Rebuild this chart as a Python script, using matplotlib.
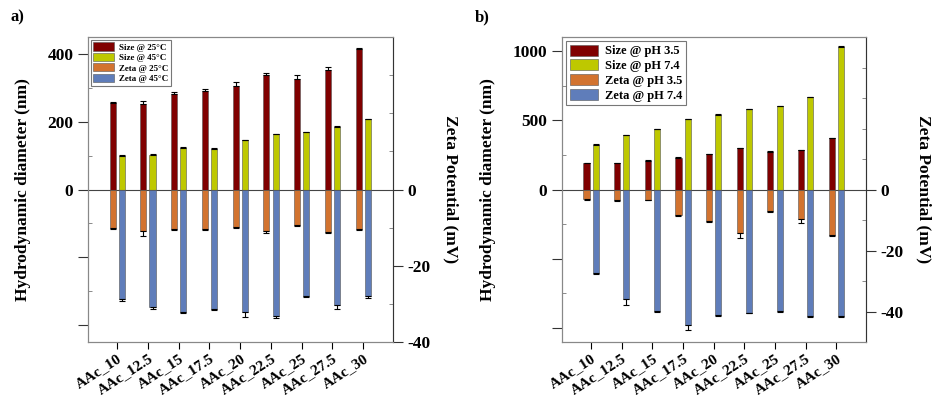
import matplotlib.pyplot as plt
import numpy as np

plt.rcParams['font.family'] = ['Liberation Serif', 'DejaVu Serif']
plt.rcParams['font.weight'] = 'bold'
plt.rcParams['axes.labelweight'] = 'bold'
plt.rcParams['axes.unicode_minus'] = False

groups = ['AAc_10', 'AAc_12.5', 'AAc_15', 'AAc_17.5', 'AAc_20',
          'AAc_22.5', 'AAc_25', 'AAc_27.5', 'AAc_30']

# panel a - temperature
size_25 = [256, 251, 282, 290, 306, 337, 327, 354, 416]
size_25_err = [2, 10, 6, 6, 10, 7, 10, 7, 2]
size_45 = [100, 102, 123, 121, 145, 163, 169, 184, 207]
size_45_err = [2, 2, 2, 2, 2, 2, 2, 2, 2]
zeta_25 = [-10.0, -10.9, -10.3, -10.3, -9.9, -10.8, -9.3, -11.1, -10.3]
zeta_25_err = [0.4, 1.2, 0.3, 0.4, 0.3, 0.5, 0.2, 0.2, 0.4]
zeta_45 = [-28.6, -30.8, -32.2, -31.3, -32.2, -33.2, -27.9, -30.4, -28.0]
zeta_45_err = [0.7, 0.5, 0.3, 0.4, 1.2, 0.5, 0.3, 1.0, 0.4]

# panel b - pH
size_35 = [188, 188, 208, 225, 254, 300, 273, 285, 372]
size_35_err = [2, 2, 2, 10, 2, 2, 2, 2, 2]
size_74 = [324, 391, 435, 507, 539, 582, 599, 664, 1027]
size_74_err = [2, 2, 2, 2, 8, 2, 2, 2, 6]
zeta_35 = [-3.2, -3.5, -3.4, -8.3, -10.4, -14.4, -7.0, -9.8, -15.0]
zeta_35_err = [0.2, 0.2, 0.2, 0.5, 0.3, 1.6, 0.3, 1.3, 0.2]
zeta_74 = [-27.5, -36.0, -39.8, -44.3, -41.3, -40.4, -39.8, -41.4, -41.5]
zeta_74_err = [0.2, 1.9, 0.2, 1.8, 0.2, 0.2, 0.2, 0.4, 0.2]

c_red = '#800000'
c_yel = '#BEC800'
c_ora = '#D2732F'
c_blu = '#5F7DBA'


def panel(ax, s1, s1e, s2, s2e, z1, z1e, z2, z2e, labels, lylim, rylim,
          lticks, lticklabels, rticks, lminor, rminor, legsize):
    x = np.arange(len(groups))
    w = 0.2
    d = 0.15
    ek = dict(ecolor='black', elinewidth=0.8, capsize=2.5, capthick=0.8)
    z = np.zeros(len(groups))
    ax.bar(x - d, s1, w, color=c_red, edgecolor='#555555', lw=0.4,
           yerr=[z, s1e], error_kw=ek, label=labels[0])
    ax.bar(x + d, s2, w, color=c_yel, edgecolor='#555555', lw=0.4,
           yerr=[z, s2e], error_kw=ek, label=labels[1])
    ax.set_ylim(*lylim)
    ax.set_yticks(lticks)
    ax.set_yticklabels(lticklabels)
    ax.set_yticks(lminor, minor=True)
    ax.set_xlim(-0.95, 8.97)
    ax.set_xticks(x)
    ax.set_xticklabels(groups, rotation=33, ha='right', fontsize=11,
                       rotation_mode='anchor')
    ax.axhline(0, color='#444444', lw=0.8, clip_on=False)
    ax.set_ylabel('Hydrodynamic diameter (nm)', fontsize=12.5, labelpad=12)

    ax2 = ax.twinx()
    ax2.bar(x - d, z1, w, color=c_ora, edgecolor='#555555', lw=0.4,
            yerr=[z1e, z], error_kw=ek, label=labels[2])
    ax2.bar(x + d, z2, w, color=c_blu, edgecolor='#555555', lw=0.4,
            yerr=[z2e, z], error_kw=ek, label=labels[3])
    ax2.set_ylim(*rylim)
    ax2.set_yticks(rticks)
    ax2.set_yticks(rminor, minor=True)
    ax2.set_ylabel('Zeta Potential (mV)', fontsize=12.5, rotation=-90,
                   labelpad=20)

    for a in (ax, ax2):
        a.tick_params(axis='y', which='major', direction='out', length=7,
                      width=0.8, labelsize=12.5, color='#333333')
        a.tick_params(axis='y', which='minor', direction='in', length=3,
                      width=0.6, color='#777777')
        for sp in a.spines.values():
            sp.set_color('#888888')
            sp.set_linewidth(0.8)
    ax.tick_params(axis='x', direction='out', length=5, width=0.8, pad=2)
    ax2.spines['right'].set_color('#333333')

    h1, l1 = ax.get_legend_handles_labels()
    h2, l2 = ax2.get_legend_handles_labels()
    leg = ax2.legend(h1 + h2, l1 + l2, loc='upper left',
                     prop={'size': legsize, 'weight': 'bold'},
                     handlelength=2.3, handleheight=1.0, fancybox=False,
                     edgecolor='#555555', borderpad=0.3, labelspacing=0.15,
                     handletextpad=0.5, borderaxespad=0.3)
    leg.get_frame().set_linewidth(0.8)
    return ax2


fig = plt.figure(figsize=(9.33, 3.98), dpi=100)
ax_a = fig.add_axes([0.0943, 0.1407, 0.327, 0.7663])
ax_b = fig.add_axes([0.6024, 0.1407, 0.3258, 0.7663])

panel(ax_a, size_25, size_25_err, size_45, size_45_err,
      zeta_25, zeta_25_err, zeta_45, zeta_45_err,
      ['Size @ 25\u00b0C', 'Size @ 45\u00b0C', 'Zeta @ 25\u00b0C',
       'Zeta @ 45\u00b0C'],
      (-450, 450), (-40, 40), [-400, -200, 0, 200, 400],
      ['', '', '0', '200', '400'], [0, -20, -40],
      [-300, -100, 100, 300], [-30, -10, 10, 20, 30], 6.5)

panel(ax_b, size_35, size_35_err, size_74, size_74_err,
      zeta_35, zeta_35_err, zeta_74, zeta_74_err,
      ['Size @ pH 3.5', 'Size @ pH 7.4', 'Zeta @ pH 3.5', 'Zeta @ pH 7.4'],
      (-1100, 1100), (-50, 50), [-1000, -500, 0, 500, 1000],
      ['', '', '0', '500', '1000'], [0, -20, -40],
      [-750, -250, 250, 750], [-50, -30, -10, 10, 20, 30, 40], 9)

fig.text(0.011, 0.945, 'a)', fontsize=12, fontweight='bold')
fig.text(0.509, 0.945, 'b)', fontsize=12, fontweight='bold')

fig.savefig('out.png', dpi=100)
